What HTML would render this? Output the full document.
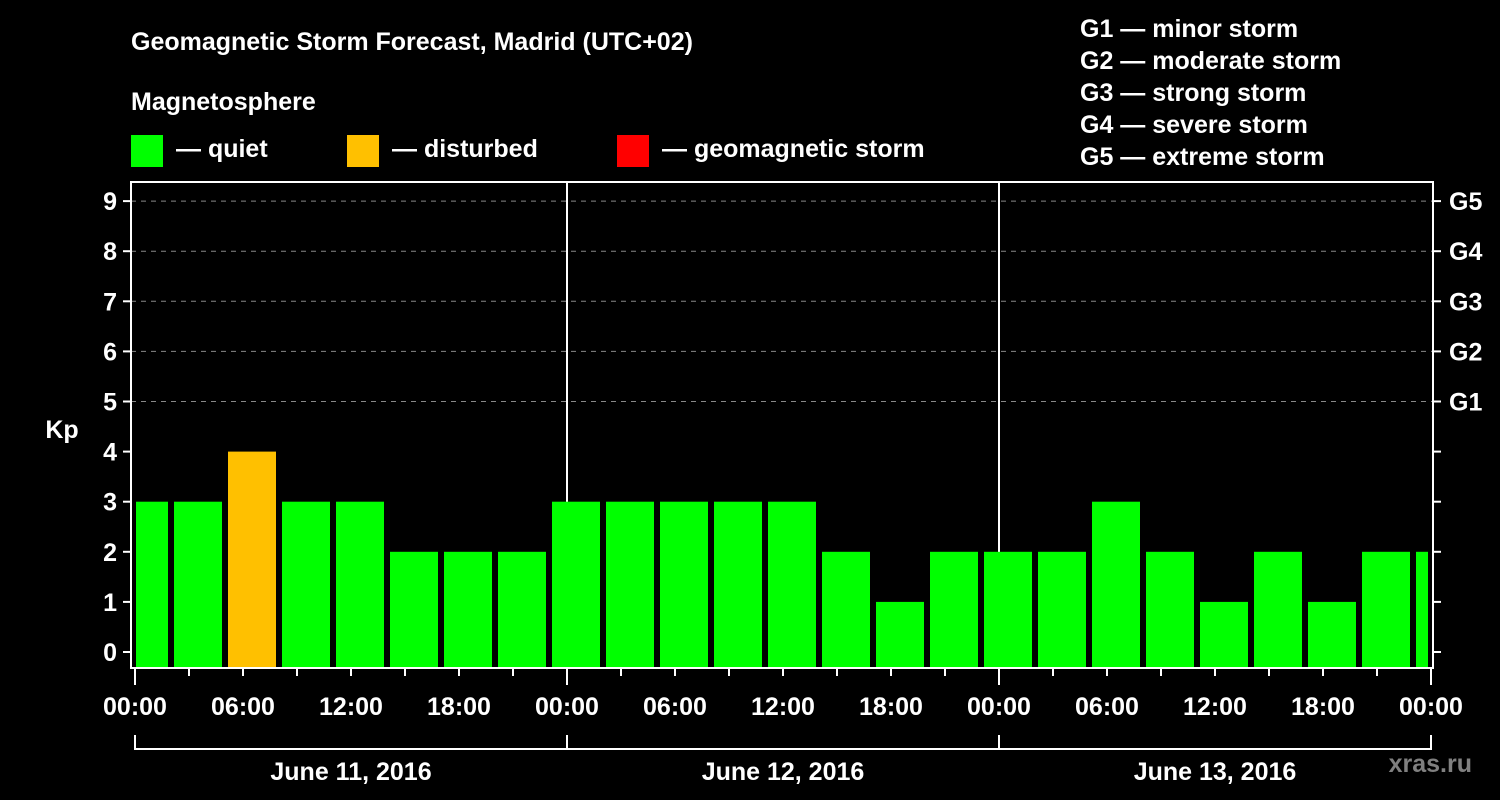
<!DOCTYPE html>
<html><head><meta charset="utf-8"><style>
html,body{margin:0;padding:0;background:#000;}
svg{display:block;font-family:"Liberation Sans",Arial,sans-serif;font-weight:bold;}
</style></head><body>
<svg id="chart" width="1500" height="800" viewBox="0 0 1500 800">
<rect width="1500" height="800" fill="#000"/>
<text x="131" y="50" fill="#fff" font-size="25">Geomagnetic Storm Forecast, Madrid (UTC+02)</text>
<text x="131" y="110" fill="#fff" font-size="25">Magnetosphere</text>
<g><rect x="131" y="135" width="32" height="32" fill="#00ff00"/><text x="176" y="157" fill="#fff" font-size="25">— quiet</text></g>
<g><rect x="347" y="135" width="32" height="32" fill="#ffc000"/><text x="392" y="157" fill="#fff" font-size="25">— disturbed</text></g>
<g><rect x="617" y="135" width="32" height="32" fill="#ff0000"/><text x="662" y="157" fill="#fff" font-size="25">— geomagnetic storm</text></g>
<g fill="#fff" font-size="25">
<text x="1080" y="37">G1 — minor storm</text>
<text x="1080" y="69">G2 — moderate storm</text>
<text x="1080" y="101">G3 — strong storm</text>
<text x="1080" y="133">G4 — severe storm</text>
<text x="1080" y="165">G5 — extreme storm</text>
</g>
<text x="62" y="438" fill="#fff" font-size="25" text-anchor="middle">Kp</text>
<text x="1472" y="772" fill="#808080" font-size="25" text-anchor="end">xras.ru</text>
<g id="grid"></g><g id="bars"></g><g id="axes"></g>
</svg>
<script>
const kpValues = [3,3,4,3,3,2,2,2,3,3,3,3,3,2,1,2,2,2,3,2,1,2,1,2,2];
const yTicks = [0,1,2,3,4,5,6,7,8,9];
const gLabels = ["G1","G2","G3","G4","G5"];
const gLevels = [5,6,7,8,9];
const hourLabels = ["00:00","06:00","12:00","18:00"];
const dayLabels = ["June 11, 2016","June 12, 2016","June 13, 2016"];
const NS="http://www.w3.org/2000/svg";
const L=131,R=1433,T=182,B=668;
const x0=135,pxH=18;
const X=h=>x0+h*pxH;
const Y=v=>652-v*50.1;
function mk(t,a,p){const e=document.createElementNS(NS,t);for(const k in a)e.setAttribute(k,a[k]);p.appendChild(e);return e;}
const grid=document.getElementById('grid'),bars=document.getElementById('bars'),axes=document.getElementById('axes');
gLevels.forEach(v=>{const l=mk('line',{x1:L,x2:R,y1:Y(v),y2:Y(v),stroke:'#888','stroke-width':1,'stroke-dasharray':'5,5'},grid);
});
[1,2].forEach(d=>{const l=mk('line',{x1:X(24*d),x2:X(24*d),y1:T,y2:B,stroke:'#fff','stroke-width':2},grid);
});
kpValues.forEach((v,i)=>{
 let a=X(-1+3*i)+3,b=X(2+3*i)-3;a=Math.max(a,136);b=Math.min(b,1428);
 const c=v>=5?'#ff0000':(v>=4?'#ffc000':'#00ff00');
 const r=mk('rect',{x:a,y:Y(v),width:b-a,height:B-Y(v),fill:c},bars);
 
});
const f=mk('rect',{x:L,y:T,width:R-L,height:B-T,fill:'none',stroke:'#fff','stroke-width':2},axes);

yTicks.forEach(v=>{
 mk('line',{x1:L-8,x2:L,y1:Y(v),y2:Y(v),stroke:'#fff','stroke-width':2},axes);
 mk('line',{x1:R,x2:R+8,y1:Y(v),y2:Y(v),stroke:'#fff','stroke-width':2},axes);
 const t=mk('text',{x:L-14,y:Y(v)+9,fill:'#fff','font-size':25,'text-anchor':'end'},axes);t.textContent=v;
 
});
gLabels.forEach((g,i)=>{const t=mk('text',{x:R+16,y:Y(gLevels[i])+9,fill:'#fff','font-size':25},axes);t.textContent=g;
 });
for(let h=0;h<=72;h+=3){const major=h%24===0;
 mk('line',{x1:X(h),x2:X(h),y1:B,y2:B+(major?17:8),stroke:'#fff','stroke-width':2},axes);
 if(h%6===0){const t=mk('text',{x:X(h),y:715,fill:'#fff','font-size':25,'text-anchor':'middle'},axes);
  t.textContent=hourLabels[(h%24)/6];}}
dayLabels.forEach((d,i)=>{
 const p=mk('path',{d:`M${X(24*i)} 735V749H${X(24*i+24)}V735`,fill:'none',stroke:'#fff','stroke-width':2},axes);
 
 const t=mk('text',{x:X(24*i+12),y:780,fill:'#fff','font-size':25,'text-anchor':'middle'},axes);t.textContent=d;
 
});
</script>
</body></html>
